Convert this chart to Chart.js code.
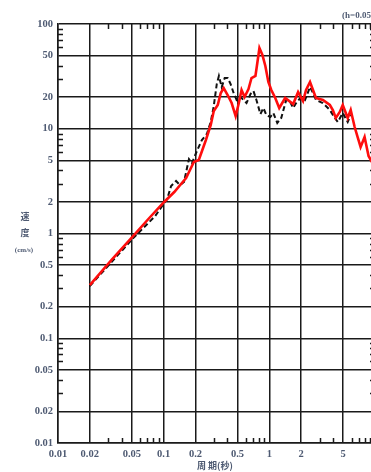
<!DOCTYPE html>
<html>
<head>
<meta charset="utf-8">
<script src="https://cdn.jsdelivr.net/npm/chart.js@4/dist/chart.umd.min.js"></script>
<style>
  html, body { margin: 0; padding: 0; background: #fff; overflow: hidden; }
  #wrap { width: 380px; height: 472px; }
</style>
</head>
<body>
<div id="wrap"><canvas id="c" width="380" height="472"></canvas></div>
<script>
// Velocity response spectrum (h=0.05): period [s] vs. velocity [cm/s]
const redPeriod = [0.02, 0.032, 0.0506, 0.0731, 0.101, 0.126, 0.146, 0.163, 0.193, 0.215,
  0.251, 0.279, 0.298, 0.325, 0.347, 0.370, 0.403, 0.440, 0.480, 0.512,
  0.546, 0.583, 0.635, 0.678, 0.739, 0.772, 0.806, 0.860, 0.917, 0.979,
  1.044, 1.138, 1.241, 1.413, 1.681, 1.872, 2.085, 2.226, 2.427, 2.589,
  2.763, 3.214, 3.739, 3.99, 4.257, 4.642, 4.953, 5.518, 5.888, 6.42,
  6.85, 7.31, 7.97, 8.69, 9.68];
const redVelocity = [0.322, 0.558, 0.926, 1.406, 2.0, 2.49, 2.97, 3.39, 4.82, 5.03,
  7.81, 10.86, 14.77, 16.86, 21.94, 24.49, 21.0, 17.6, 13.23, 17.23,
  23.43, 20.1, 23.96, 30.5, 31.9, 43.4, 59.0, 50.6, 39.7, 27.95,
  23.43, 19.66, 15.78, 19.66, 17.2, 22.4, 18.4, 23.43, 27.95, 23.43,
  19.66, 18.82, 16.86, 15.1, 12.67, 14.45, 16.86, 12.67, 15.1, 10.39,
  8.34, 6.70, 8.34, 5.50, 4.51];

const blackPeriod = [0.02, 0.0506, 0.0832, 0.0968, 0.1079, 0.1176, 0.131, 0.1428, 0.1558, 0.1663,
  0.1736, 0.1852, 0.2064, 0.2299, 0.2562, 0.279, 0.298, 0.318, 0.3332, 0.3543,
  0.378, 0.4033, 0.4302, 0.4592, 0.49, 0.5342, 0.5701, 0.6083, 0.6633, 0.7077,
  0.7549, 0.8232, 0.8784, 0.9371, 1.022, 1.0904, 1.189, 1.296, 1.444, 1.575,
  1.681, 1.793, 1.998, 2.178, 2.427, 2.589, 2.763, 3.214, 3.739, 4.166,
  4.445, 4.953, 5.518, 5.888];
const blackVelocity = [0.315, 0.886, 1.469, 1.83, 2.135, 2.84, 3.17, 2.90, 3.10, 4.22,
  5.14, 4.71, 6.13, 7.81, 8.91, 11.6, 16.49, 26.7, 31.9, 25.0,
  30.5, 30.5, 26.7, 21.94, 18.82, 20.1, 18.82, 17.6, 21.46, 22.93,
  18.82, 13.83, 15.78, 13.53, 12.95, 14.14, 11.35, 12.67, 18.82, 18.0,
  15.78, 17.6, 20.1, 18.82, 25.0, 21.94, 18.82, 17.6, 15.1, 12.67,
  11.6, 14.14, 11.6, 13.53];

const xTicks = [0.01, 0.02, 0.05, 0.1, 0.2, 0.5, 1, 2, 5, 10];
const xTickLabels = ['0.01', '0.02', '0.05', '0.1', '0.2', '0.5', '1', '2', '5', ''];
const yTicks = [0.01, 0.02, 0.05, 0.1, 0.2, 0.5, 1, 2, 5, 10, 20, 50, 100];
const minorSteps = [3, 4, 6, 7, 8, 9];

const labelColor = '#4e5a72';
const gridColor = '#1a1a1a';
const gridWidth = 1.5;

function toPoints(xs, ys) {
  return xs.map((x, i) => ({ x: x, y: ys[i] }));
}

function minorValues(min, max) {
  const out = [];
  for (let e = Math.floor(Math.log10(min)); e < Math.ceil(Math.log10(max)); e++) {
    minorSteps.forEach(k => {
      const v = k * Math.pow(10, e);
      if (v > min && v < max) out.push(v);
    });
  }
  return out;
}

// Short inward tick marks for the intermediate decades, plus the extra labels
const decorations = {
  id: 'decorations',
  afterDraw(chart) {
    const { ctx, chartArea: a, scales } = chart;
    const xs = scales.x, ys = scales.y;
    ctx.save();
    ctx.strokeStyle = gridColor;
    ctx.lineWidth = gridWidth;
    ctx.beginPath();
    minorValues(xs.min, xs.max).forEach(v => {
      const px = Math.round(xs.getPixelForValue(v)) + 0.5;
      ctx.moveTo(px, a.bottom); ctx.lineTo(px, a.bottom - 5);
      ctx.moveTo(px, a.top); ctx.lineTo(px, a.top + 5);
    });
    minorValues(ys.min, ys.max).forEach(v => {
      const py = Math.round(ys.getPixelForValue(v)) + 0.5;
      ctx.moveTo(a.left, py); ctx.lineTo(a.left + 5, py);
      ctx.moveTo(a.right, py); ctx.lineTo(a.right - 5, py);
    });
    ctx.stroke();

    ctx.fillStyle = labelColor;
    ctx.textBaseline = 'middle';
    ctx.textAlign = 'left';
    ctx.font = 'bold 9px "Liberation Serif", serif';
    ctx.fillText('(h=0.05)', 342, 16);

    ctx.textAlign = 'center';
    ctx.font = 'bold 9px "Noto Sans CJK JP", sans-serif';
    ctx.fillText('速', 25, 217);
    ctx.fillText('度', 25, 233);
    ctx.font = 'bold 7px "Liberation Serif", serif';
    ctx.fillText('(cm/s)', 24, 250);

    ctx.font = 'bold 9px "Noto Sans CJK JP", sans-serif';
    ctx.fillText('周 期(秒)', 215, 466);
    ctx.restore();
  }
};

new Chart(document.getElementById('c'), {
  type: 'scatter',
  data: {
    datasets: [
      {
        data: toPoints(redPeriod, redVelocity),
        showLine: true,
        borderColor: '#ff0d0d',
        borderWidth: 2.6,
        pointRadius: 0,
        tension: 0
      },
      {
        data: toPoints(blackPeriod, blackVelocity),
        showLine: true,
        borderColor: '#111111',
        borderWidth: 2,
        borderDash: [5, 3],
        pointRadius: 0,
        tension: 0
      }
    ]
  },
  options: {
    responsive: false,
    animation: false,
    layout: { padding: { top: 24, right: 3, left: 0, bottom: 0 } },
    plugins: { legend: { display: false }, tooltip: { enabled: false } },
    scales: {
      x: {
        type: 'logarithmic',
        min: 0.01,
        max: 10,
        afterBuildTicks(scale) { scale.ticks = xTicks.map(v => ({ value: v })); },
        afterFit(scale) { scale.height = 29; },
        grid: { color: gridColor, lineWidth: gridWidth, drawTicks: false },
        border: { color: gridColor, width: gridWidth },
        ticks: {
          autoSkip: false,
          maxRotation: 0,
          padding: 5,
          color: labelColor,
          font: { family: '"Liberation Serif", serif', size: 10.5, weight: 'bold' },
          callback: (v, i) => xTickLabels[i]
        }
      },
      y: {
        type: 'logarithmic',
        min: 0.01,
        max: 100,
        afterBuildTicks(scale) { scale.ticks = yTicks.map(v => ({ value: v })); },
        afterFit(scale) { scale.width = 58; },
        grid: { color: gridColor, lineWidth: gridWidth, drawTicks: false },
        border: { color: gridColor, width: gridWidth },
        ticks: {
          autoSkip: false,
          padding: 5,
          color: labelColor,
          font: { family: '"Liberation Serif", serif', size: 10.5, weight: 'bold' },
          callback: v => String(v)
        }
      }
    }
  },
  plugins: [decorations]
});
</script>
</body>
</html>
